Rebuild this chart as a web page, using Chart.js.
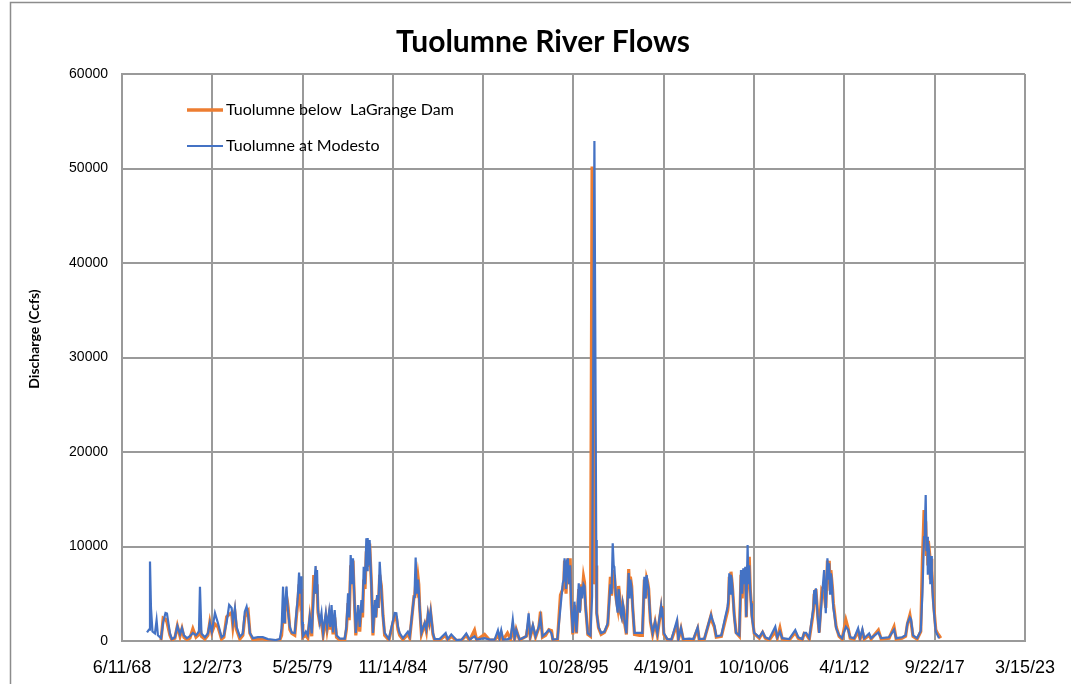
<!DOCTYPE html>
<html lang="en">
<head>
  <meta charset="UTF-8" />
  <title>Tuolumne River Flows</title>
  <style>
    html, body { margin: 0; padding: 0; background: #fff; }
    #wrap { width: 1071px; height: 684px; }
  </style>
</head>
<body>
  <div id="wrap"><canvas id="flowChart" width="1071" height="684"></canvas></div>

  <script src="https://cdn.jsdelivr.net/npm/chart.js"></script>
  <script>
    // decimal years
    const years = [
      1969.96, 1970.08, 1970.14, 1970.20, 1970.29, 1970.44, 1970.54, 1970.62, 1970.81, 1970.94,
      1971.08, 1971.17, 1971.35, 1971.47, 1971.65, 1971.80, 1971.96, 1972.08, 1972.20, 1972.38,
      1972.56, 1972.74, 1972.93, 1973.11, 1973.17, 1973.26, 1973.47, 1973.65, 1973.77, 1973.89,
      1974.08, 1974.26, 1974.48, 1974.62, 1974.79, 1974.94, 1975.09, 1975.17, 1975.29, 1975.39,
      1975.59, 1975.77, 1975.89, 1976.00, 1976.09, 1976.20, 1976.38, 1976.68, 1976.98, 1977.29,
      1977.53, 1977.77, 1978.01, 1978.12, 1978.21, 1978.27, 1978.32, 1978.42, 1978.47, 1978.52,
      1978.62, 1978.74, 1978.92, 1979.03, 1979.10, 1979.18, 1979.25, 1979.33, 1979.36, 1979.41,
      1979.59, 1979.71, 1979.83, 1979.95, 1980.07, 1980.13, 1980.18, 1980.22, 1980.27, 1980.33,
      1980.44, 1980.54, 1980.64, 1980.80, 1980.88, 1981.00, 1981.07, 1981.15, 1981.24, 1981.34,
      1981.45, 1981.65, 1981.95, 1982.05, 1982.15, 1982.22, 1982.31, 1982.39, 1982.45, 1982.51,
      1982.62, 1982.76, 1982.86, 1982.96, 1983.03, 1983.10, 1983.18, 1983.26, 1983.30, 1983.34,
      1983.40, 1983.46, 1983.57, 1983.66, 1983.77, 1983.84, 1983.91, 1983.99, 1984.07, 1984.17,
      1984.22, 1984.27, 1984.37, 1984.63, 1984.88, 1984.98, 1985.08, 1985.18, 1985.28, 1985.48,
      1985.78, 1985.89, 1986.15, 1986.20, 1986.25, 1986.32, 1986.39, 1986.44, 1986.49, 1986.60,
      1986.80, 1986.90, 1987.00, 1987.08, 1987.16, 1987.30, 1987.40, 1987.70, 1988.07, 1988.19,
      1988.41, 1988.72, 1989.04, 1989.32, 1989.52, 1989.82, 1989.95, 1990.43, 1990.73, 1991.04,
      1991.24, 1991.34, 1991.44, 1991.55, 1991.82, 1992.01, 1992.14, 1992.25, 1992.35, 1992.55,
      1992.96, 1993.10, 1993.20, 1993.36, 1993.52, 1993.72, 1993.82, 1993.94, 1994.13, 1994.33,
      1994.49, 1994.57, 1994.85, 1995.03, 1995.17, 1995.23, 1995.28, 1995.37, 1995.43, 1995.48,
      1995.55, 1995.62, 1995.68, 1995.78, 1995.88, 1995.94, 1996.00, 1996.14, 1996.21, 1996.29,
      1996.35, 1996.43, 1996.49, 1996.55, 1996.69, 1996.85, 1996.95, 1997.09, 1997.20, 1997.23,
      1997.34, 1997.50, 1997.70, 1997.90, 1998.06, 1998.13, 1998.20, 1998.26, 1998.30, 1998.37,
      1998.43, 1998.50, 1998.56, 1998.62, 1998.67, 1998.74, 1998.81, 1998.86, 1998.91, 1999.03,
      1999.17, 1999.23, 1999.27, 1999.35, 1999.41, 1999.52, 1999.82, 2000.00, 2000.12, 2000.19,
      2000.26, 2000.32, 2000.38, 2000.44, 2000.49, 2000.62, 2000.77, 2000.91, 2001.13, 2001.18,
      2001.21, 2001.30, 2001.51, 2001.76, 2002.10, 2002.18, 2002.34, 2002.48, 2002.85, 2003.09,
      2003.35, 2003.45, 2003.76, 2004.16, 2004.24, 2004.36, 2004.48, 2004.79, 2005.03, 2005.17,
      2005.22, 2005.27, 2005.32, 2005.37, 2005.42, 2005.47, 2005.57, 2005.68, 2005.88, 2005.98,
      2006.05, 2006.12, 2006.18, 2006.24, 2006.30, 2006.38, 2006.43, 2006.48, 2006.54, 2006.59,
      2006.64, 2006.78, 2007.09, 2007.29, 2007.45, 2007.69, 2008.06, 2008.18, 2008.34, 2008.48,
      2008.90, 2009.27, 2009.45, 2009.69, 2009.81, 2009.93, 2010.12, 2010.32, 2010.37, 2010.42,
      2010.47, 2010.52, 2010.63, 2010.72, 2010.88, 2011.02, 2011.12, 2011.17, 2011.22, 2011.28,
      2011.33, 2011.38, 2011.43, 2011.48, 2011.53, 2011.58, 2011.63, 2011.75, 2011.93, 2012.11,
      2012.34, 2012.48, 2012.60, 2012.84, 2013.08, 2013.20, 2013.34, 2013.45, 2013.75, 2013.87,
      2014.31, 2014.48, 2014.96, 2015.26, 2015.39, 2015.75, 2015.96, 2016.07, 2016.22, 2016.29,
      2016.41, 2016.66, 2016.88, 2016.98, 2017.03, 2017.08, 2017.13, 2017.18, 2017.23, 2017.28,
      2017.31, 2017.34, 2017.43, 2017.46, 2017.51, 2017.55, 2017.58, 2017.64, 2017.69, 2017.79,
      2017.90, 2017.99, 2018.09
    ];

    // Tuolumne at Modesto (cfs)
    const modesto = [
      900, 1200, 8400, 3500, 1000, 800, 2200, 600, 300, 2000,
      2960, 2900, 800, 200, 400, 1590, 700, 1370, 600, 300,
      500, 850, 600, 1000, 5750, 800, 400, 800, 1900, 1000,
      2960, 1900, 400, 600, 2000, 3810, 3490, 2000, 3460, 1510,
      460, 800, 3100, 3630, 2800, 850, 300, 400, 400, 200,
      150, 100, 200, 1300, 5750, 2000, 3500, 5750, 4000, 3000,
      1500, 900, 850, 3280, 4500, 7230, 5000, 6850, 2000, 500,
      1000, 600, 2570, 800, 5000, 6500, 7940, 5000, 7510, 3280,
      1900, 2960, 850, 2930, 1510, 3100, 1500, 3810, 900, 3280,
      600, 250, 250, 1510, 5040, 2500, 9100, 6000, 8750, 5750,
      850, 3810, 1500, 4340, 3000, 7860, 6000, 10870, 7500, 10900,
      8000, 10690, 5750, 850, 4340, 2500, 4870, 3500, 8390, 5400,
      4000, 2570, 850, 200, 2200, 2960, 2930, 1510, 850, 300,
      990, 500, 4700, 6000, 8820, 5000, 6500, 5500, 3630, 850,
      1900, 1200, 2930, 2000, 3100, 850, 200, 200, 850, 200,
      700, 100, 150, 800, 150, 500, 150, 300, 150, 150,
      1140, 300, 1140, 150, 200, 300, 2220, 300, 1160, 150,
      500, 2930, 500, 1690, 500, 1510, 2500, 500, 800, 1160,
      800, 150, 200, 3500, 6100, 6500, 8750, 5500, 8500, 8750,
      6000, 8000, 3990, 850, 4160, 2500, 900, 6100, 3000, 5750,
      4500, 6000, 5800, 3630, 800, 600, 4700, 52900, 10700, 2930,
      1500, 850, 1000, 1900, 6000, 5000, 10340, 8000, 7860, 5500,
      4000, 3000, 5500, 4500, 3000, 2500, 3990, 3500, 2200, 800,
      7200, 4500, 6500, 5500, 3630, 850, 850, 850, 6800, 4500,
      6980, 6000, 5400, 3500, 2200, 850, 2040, 800, 3630, 2500,
      3500, 850, 200, 150, 2220, 200, 1370, 200, 250, 200,
      1440, 200, 250, 2750, 2300, 1700, 500, 600, 2570, 3630,
      4500, 7160, 5000, 7000, 6500, 5400, 2570, 850, 600, 7510,
      5000, 7690, 6000, 7860, 2570, 10160, 6000, 8000, 5400, 4000,
      2570, 850, 400, 980, 400, 200, 1510, 400, 1000, 300,
      200, 1160, 400, 200, 850, 850, 300, 2930, 3500, 5400,
      4000, 5570, 2570, 850, 4500, 7510, 2930, 6000, 8750, 6500,
      8220, 5000, 7160, 6500, 5040, 3500, 2930, 1370, 600, 300,
      1500, 1200, 400, 300, 1340, 300, 1250, 300, 810, 300,
      900, 300, 400, 1200, 300, 400, 600, 1870, 2500, 2300,
      600, 300, 1100, 5000, 8000, 11000, 12000, 15450, 9500, 11040,
      7000, 10300, 8570, 6000, 9000, 7500, 5750, 4000, 2930, 1000,
      600, 300, null
    ];

    // Tuolumne below LaGrange Dam (cfs)
    const laGrange = [
      null, null, null, null, null, null, null, null, 100, 2430,
      2300, 2000, 600, 100, 300, 1600, 500, 1300, 400, 150,
      300, 1300, 400, 700, 1500, 500, 200, 600, 2000, 900,
      1800, 1500, 200, 400, 2570, 2800, 3000, 1500, 3000, 1200,
      200, 600, 2500, 3000, 3200, 800, 150, 200, 250, 50,
      50, 50, 100, 600, 2500, 2000, 3000, 4700, 4200, 3500,
      1200, 800, 600, 2800, 4000, 6000, 4500, 5500, 1800, 400,
      600, 300, 2400, 500, 6980, 6000, 6500, 5000, 6000, 3000,
      1800, 2000, 600, 2500, 1200, 2600, 1200, 3000, 700, 2500,
      400, 100, 100, 1200, 4000, 2200, 8000, 6500, 8500, 5500,
      600, 3000, 1000, 3800, 2500, 6500, 5500, 9500, 8000, 10500,
      8500, 10300, 6000, 600, 3800, 2500, 4500, 3500, 7000, 5800,
      4200, 2700, 600, 100, 2000, 2600, 2500, 1200, 600, 150,
      700, 300, 4700, 5000, 6000, 5500, 6800, 6000, 3700, 700,
      1800, 1000, 2700, 2000, 3000, 700, 100, 100, 600, 100,
      500, 50, 100, 600, 50, 1140, 100, 700, 100, 100,
      600, 200, 800, 100, 850, 200, 1500, 200, 1200, 100,
      500, 2000, 400, 1500, 400, 1400, 3100, 400, 600, 1200,
      1100, 100, 100, 4870, 5500, 6000, 8500, 5000, 8000, 8750,
      6000, 8750, 4000, 700, 3800, 2300, 800, 5500, 3200, 6000,
      5000, 6800, 6200, 3800, 700, 500, 50200, 6000, 8000, 3000,
      1400, 700, 900, 1700, 6800, 4800, 7500, 6000, 7000, 5000,
      4200, 3500, 5820, 4800, 3000, 2600, 3800, 3300, 2000, 700,
      7600, 5000, 6800, 5800, 3600, 700, 600, 600, 6500, 4500,
      6600, 6200, 5500, 3500, 2000, 700, 2000, 600, 3400, 2500,
      3700, 700, 150, 100, 1800, 150, 1300, 100, 100, 100,
      1300, 100, 200, 2700, 2000, 1500, 400, 500, 2200, 3200,
      4000, 6800, 5500, 7330, 6500, 5500, 2800, 900, 500, 7000,
      4500, 7500, 6000, 7700, 2500, 8000, 6500, 8920, 5500, 4200,
      2800, 800, 300, 900, 300, 100, 1000, 300, 1370, 200,
      100, 900, 300, 100, 800, 700, 200, 2500, 3200, 5000,
      4000, 5500, 2800, 900, 5400, 5000, 3500, 6000, 8500, 6000,
      8500, 5500, 7500, 6500, 5500, 4000, 3300, 1500, 500, 200,
      2220, 1300, 300, 200, 1000, 200, 1000, 200, 600, 200,
      1160, 200, 300, 1510, 200, 300, 500, 1800, 2750, 2000,
      500, 200, 1000, 8570, 11000, 13860, 12500, 12500, 9000, 10500,
      8000, 10600, 9000, 6500, 8700, 7500, 6500, 4500, 3300, 1200,
      800, 600, 300
    ];

    const xTickLabels = ['6/11/68', '12/2/73', '5/25/79', '11/14/84', '5/7/90', '10/28/95',
                         '4/19/01', '10/10/06', '4/1/12', '9/22/17', '3/15/23'];
    const yTicks = [0, 10000, 20000, 30000, 40000, 50000, 60000];

    const seriesNames = ['Tuolumne at Modesto', 'Tuolumne below  LaGrange Dam'];
    const seriesColors = ['#4472c4', '#ed7d31'];

    // m/d/yy -> decimal year
    function toYear(label) {
      const [m, d, yy] = label.split('/').map(Number);
      const y = yy < 50 ? 2000 + yy : 1900 + yy;
      const start = Date.UTC(y, 0, 1);
      const len = Date.UTC(y + 1, 0, 1) - start;
      return y + (Date.UTC(y, m - 1, d) - start) / len;
    }
    const xTickValues = xTickLabels.map(toYear);

    const pts = vals => years.map((x, i) => ({ x: x, y: vals[i] }));

    const gridGray = '#9a9a9a';

    const decor = {
      id: 'decor',
      beforeDraw(chart) {
        const ctx = chart.ctx;
        ctx.save();
        ctx.fillStyle = '#fff';
        ctx.fillRect(0, 0, chart.width, chart.height);
        ctx.restore();
      },
      afterDraw(chart) {
        const ctx = chart.ctx;
        ctx.save();
        // outer frame
        ctx.strokeStyle = '#8c8c8c';
        ctx.lineWidth = 1.5;
        ctx.strokeRect(10.5, 2.5, 1200, 800);

        // title
        ctx.fillStyle = '#000';
        ctx.font = 'bold 30px Lato, "Open Sans", sans-serif';
        ctx.textAlign = 'center';
        ctx.textBaseline = 'middle';
        ctx.fillText('Tuolumne River Flows', 543, 42);

        // y axis title
        ctx.save();
        ctx.translate(34, 339);
        ctx.rotate(-Math.PI / 2);
        ctx.font = 'bold 14px Lato, "Open Sans", sans-serif';
        ctx.fillText('Discharge (Ccfs)', 0, 0);
        ctx.restore();

        // legend, orange first
        ctx.textAlign = 'left';
        ctx.font = '16px Lato, "Open Sans", sans-serif';
        const rows = [
          { ds: 1, y: 110, w: 3.5 },
          { ds: 0, y: 146, w: 2 }
        ];
        rows.forEach(r => {
          const ds = chart.data.datasets[r.ds];
          ctx.strokeStyle = ds.borderColor;
          ctx.lineWidth = r.w;
          ctx.beginPath();
          ctx.moveTo(187, r.y);
          ctx.lineTo(223, r.y);
          ctx.stroke();
          ctx.fillStyle = '#000';
          ctx.fillText(ds.label, 226, r.y);
        });
        ctx.restore();
      }
    };

    new Chart(document.getElementById('flowChart'), {
      type: 'line',
      data: {
        datasets: [
          {
            label: seriesNames[0],
            data: pts(modesto),
            borderColor: seriesColors[0],
            borderWidth: 2.2,
            pointRadius: 0,
            tension: 0,
            spanGaps: false
          },
          {
            label: seriesNames[1],
            data: pts(laGrange),
            borderColor: seriesColors[1],
            borderWidth: 3.2,
            pointRadius: 0,
            tension: 0,
            spanGaps: false
          }
        ]
      },
      options: {
        responsive: false,
        animation: false,
        devicePixelRatio: 1,
        layout: { padding: { top: 74, right: 45, left: 0, bottom: 0 } },
        plugins: {
          legend: { display: false },
          tooltip: { enabled: false },
          title: { display: false }
        },
        scales: {
          x: {
            type: 'linear',
            min: xTickValues[0],
            max: xTickValues[xTickValues.length - 1],
            afterBuildTicks: s => { s.ticks = xTickValues.map(v => ({ value: v })); },
            afterFit: s => { s.height = 43; },
            grid: { color: gridGray, lineWidth: 2, drawTicks: false },
            border: { color: gridGray, width: 2 },
            ticks: {
              autoSkip: false,
              maxRotation: 0,
              padding: 16,
              color: '#000',
              font: { family: '"Liberation Sans", Arial, sans-serif', size: 18 },
              callback: (v, i) => xTickLabels[i]
            }
          },
          y: {
            min: 0,
            max: 60000,
            afterBuildTicks: s => { s.ticks = yTicks.map(v => ({ value: v })); },
            afterFit: s => { s.width = 122; },
            grid: { color: gridGray, lineWidth: 2, drawTicks: false },
            border: { color: gridGray, width: 2 },
            ticks: {
              padding: 14,
              color: '#000',
              font: { family: '"Liberation Sans", Arial, sans-serif', size: 14 },
              callback: v => String(v)
            }
          }
        }
      },
      plugins: [decor]
    });
  </script>
</body>
</html>
